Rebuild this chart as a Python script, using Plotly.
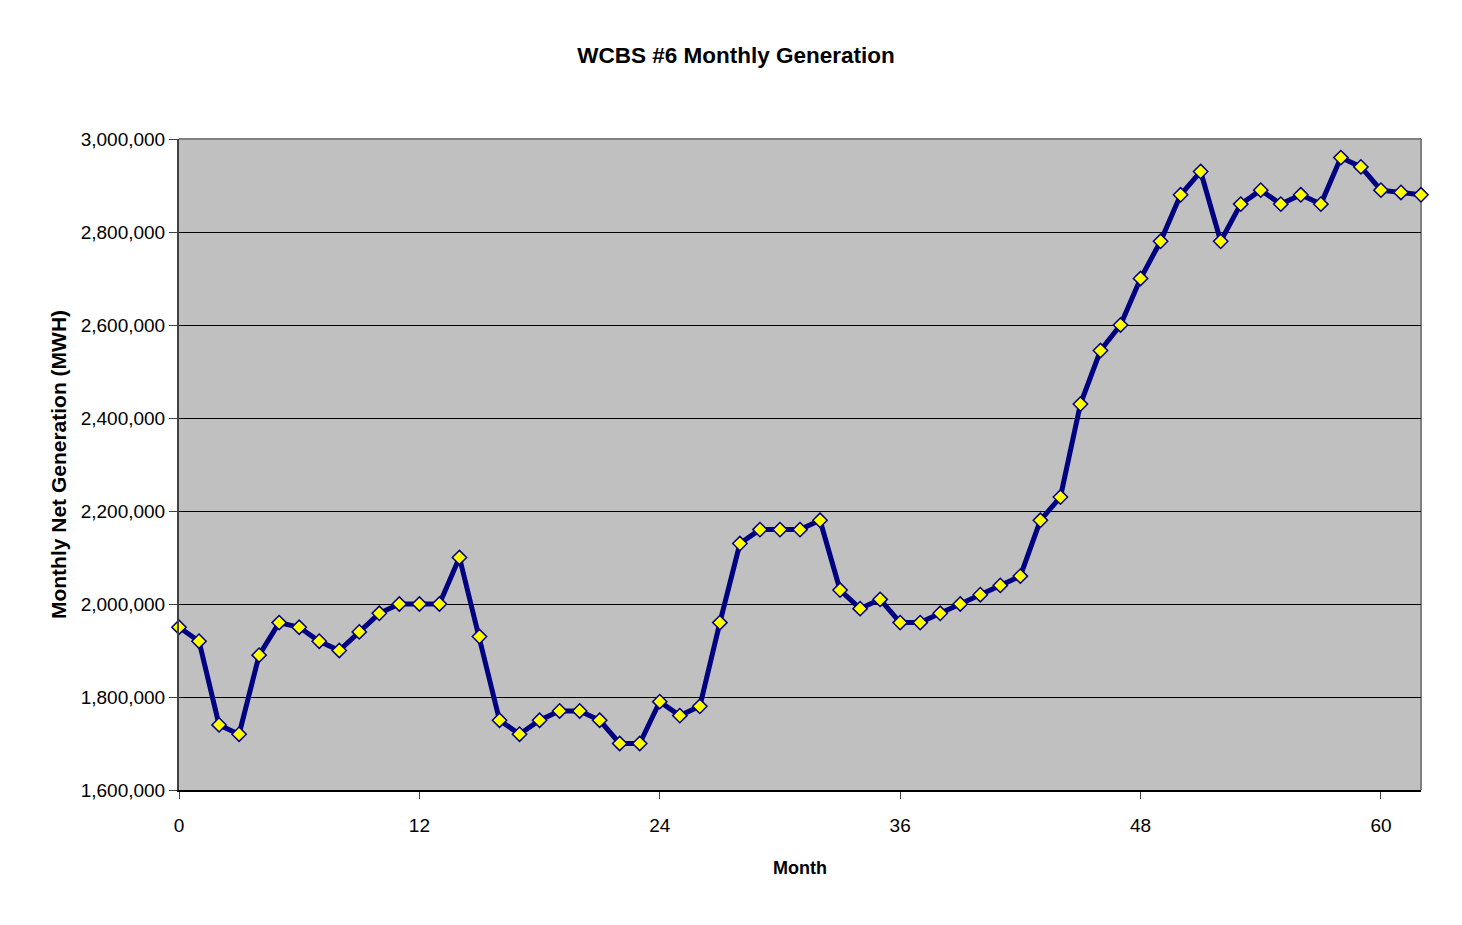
import plotly.graph_objects as go

# Monthly net generation (MWH), month 0..62
months = list(range(63))
generation = [
    1950000, 1920000, 1740000, 1720000, 1890000, 1960000, 1950000, 1920000,
    1900000, 1940000, 1980000, 2000000, 2000000, 2000000, 2100000, 1930000,
    1750000, 1720000, 1750000, 1770000, 1770000, 1750000, 1700000, 1700000,
    1790000, 1760000, 1780000, 1960000, 2130000, 2160000, 2160000, 2160000,
    2180000, 2030000, 1990000, 2010000, 1960000, 1960000, 1980000, 2000000,
    2020000, 2040000, 2060000, 2180000, 2230000, 2430000, 2545000, 2600000,
    2700000, 2780000, 2880000, 2930000, 2780000, 2860000, 2890000, 2860000,
    2880000, 2860000, 2960000, 2940000, 2890000, 2885000, 2880000,
]
x_ticks = [0, 12, 24, 36, 48, 60]
y_ticks = list(range(1600000, 3000001, 200000))

# the page body adds an 8px margin, so the figure is sized to fit inside it
W, H = 1454, 917
ml, mr, mt, mb = 171, 41, 131, 135

fig = go.Figure()

fig.add_trace(go.Scatter(
    x=months, y=generation,
    mode='lines+markers',
    line=dict(color='#000080', width=5),
    marker=dict(symbol='diamond', size=11, color='#FFFF00',
                line=dict(color='#000080', width=1.5)),
    showlegend=False,
    cliponaxis=False,
))

# top / right border of the plot area in gray
fig.add_shape(type='line', xref='paper', yref='paper', x0=0, x1=1, y0=1, y1=1,
              line=dict(color='#808080', width=2), layer='above')
fig.add_shape(type='line', xref='paper', yref='paper', x0=1, x1=1, y0=0, y1=1,
              line=dict(color='#808080', width=2), layer='below')

fig.update_layout(
    width=W, height=H,
    margin=dict(l=ml, r=mr, t=mt, b=mb),
    paper_bgcolor='white',
    plot_bgcolor='#C0C0C0',
    font=dict(family='Liberation Sans, Arial, sans-serif', color='black'),
    title=dict(text='<b>WCBS #6 Monthly Generation</b>', x=0.5007, xref='container',
               xanchor='center', y=1 - 47 / H, yref='container', yanchor='middle',
               font=dict(size=22.5, color='black')),
    xaxis=dict(
        range=[0, 62], tickvals=x_ticks, ticks='outside', ticklen=7,
        tickcolor='#404040', tickwidth=1, ticklabelstandoff=10,
        showline=True, linecolor='black', linewidth=2,
        showgrid=False, zeroline=False,
        tickfont=dict(size=19),
        title=dict(text='<b>Month</b>', font=dict(size=18), standoff=27),
    ),
    yaxis=dict(
        range=[1600000, 3000000], tickvals=y_ticks, tickformat=',d',
        ticks='outside', ticklen=8, tickcolor='#404040', tickwidth=1,
        showline=True, linecolor='#404040', linewidth=2,
        showgrid=True, gridcolor='black', gridwidth=1, zeroline=False,
        tickfont=dict(size=19),
        title=dict(text='<b>Monthly Net Generation (MWH)</b>', font=dict(size=21), standoff=8),
    ),
)

fig.write_html('out.html')
